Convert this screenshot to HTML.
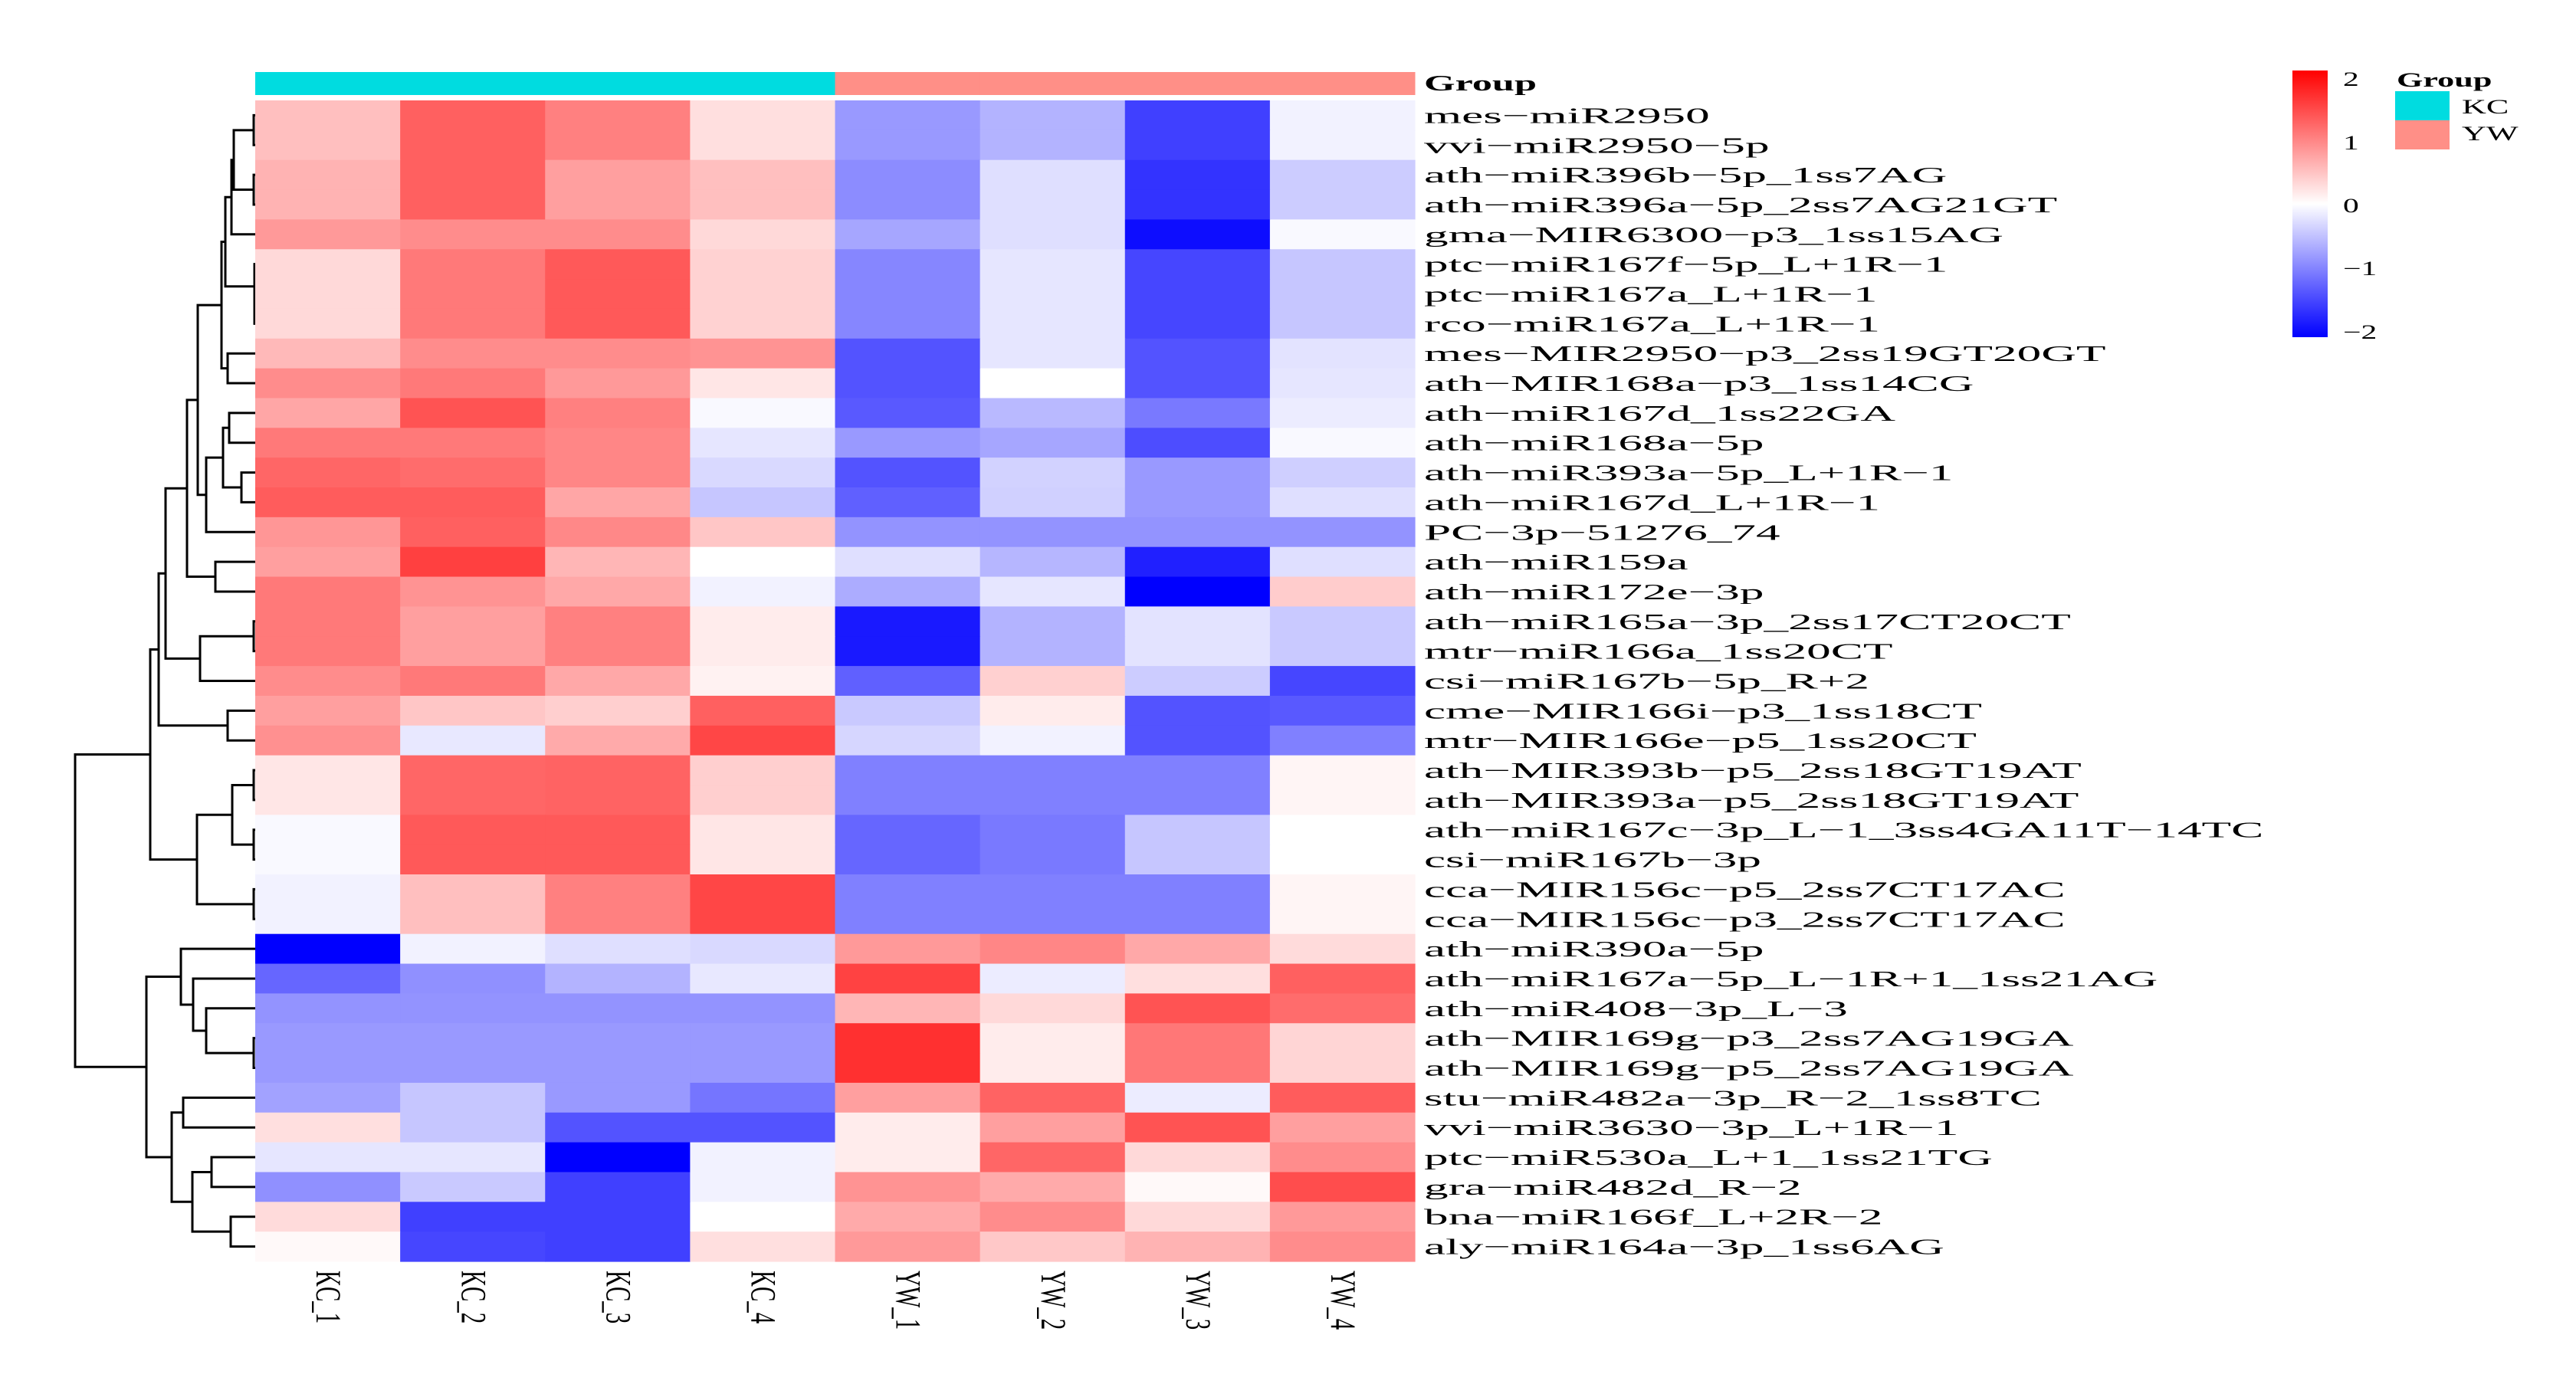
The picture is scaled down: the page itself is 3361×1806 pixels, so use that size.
<!DOCTYPE html>
<html><head><meta charset="utf-8"><style>
html,body{margin:0;padding:0;background:#fff;}
svg{display:block;}
text{font-family:"Liberation Serif",serif;fill:#000;}
</style></head><body>
<svg id="chart" width="3361" height="1806" viewBox="0 0 3361 1806" xmlns="http://www.w3.org/2000/svg">
<defs>
<linearGradient id="cbar" x1="0" y1="0" x2="0" y2="1">
<stop offset="0" stop-color="#ff0000"/><stop offset="0.5" stop-color="#ffffff"/><stop offset="1" stop-color="#0000ff"/>
</linearGradient>
</defs>
<g id="dendro"></g>
<g id="groupbar"></g>
<g id="cells"></g>
<g id="rowlabels"></g>
<g id="collabels"></g>
<g>
<rect x="2991" y="92" width="46" height="348" fill="url(#cbar)"/>
<text font-size="26" transform="translate(3057,112) scale(1.6,1)">2</text>
<text font-size="26" transform="translate(3057,195) scale(1.6,1)">1</text>
<text font-size="26" transform="translate(3057,277) scale(1.6,1)">0</text>
<text font-size="26" transform="translate(3057,359) scale(1.6,1)">−1</text>
<text font-size="26" transform="translate(3057,442) scale(1.6,1)">−2</text>
</g>
<g>
<text font-size="26" font-weight="bold" transform="translate(3127,113) scale(1.7,1)">Group</text>
<rect x="3125" y="119" width="71" height="38" fill="#00dce0"/>
<rect x="3125" y="157" width="71" height="38" fill="#ff8f87"/>
<text font-size="26" transform="translate(3212,148) scale(1.7,1)">KC</text>
<text font-size="26" transform="translate(3212,183) scale(1.7,1)">YW</text>
</g>
<text font-size="29" font-weight="bold" transform="translate(1858,118) scale(1.8,1)">Group</text>
</svg>
<script>
const samples = ["KC_1","KC_2","KC_3","KC_4","YW_1","YW_2","YW_3","YW_4"];
const groups = ["KC","KC","KC","KC","YW","YW","YW","YW"];
const rowNames = ["mes−miR2950","vvi−miR2950−5p","ath−miR396b−5p_1ss7AG","ath−miR396a−5p_2ss7AG21GT","gma−MIR6300−p3_1ss15AG","ptc−miR167f−5p_L+1R−1","ptc−miR167a_L+1R−1","rco−miR167a_L+1R−1","mes−MIR2950−p3_2ss19GT20GT","ath−MIR168a−p3_1ss14CG","ath−miR167d_1ss22GA","ath−miR168a−5p","ath−miR393a−5p_L+1R−1","ath−miR167d_L+1R−1","PC−3p−51276_74","ath−miR159a","ath−miR172e−3p","ath−miR165a−3p_2ss17CT20CT","mtr−miR166a_1ss20CT","csi−miR167b−5p_R+2","cme−MIR166i−p3_1ss18CT","mtr−MIR166e−p5_1ss20CT","ath−MIR393b−p5_2ss18GT19AT","ath−MIR393a−p5_2ss18GT19AT","ath−miR167c−3p_L−1_3ss4GA11T−14TC","csi−miR167b−3p","cca−MIR156c−p5_2ss7CT17AC","cca−MIR156c−p3_2ss7CT17AC","ath−miR390a−5p","ath−miR167a−5p_L−1R+1_1ss21AG","ath−miR408−3p_L−3","ath−MIR169g−p3_2ss7AG19GA","ath−MIR169g−p5_2ss7AG19GA","stu−miR482a−3p_R−2_1ss8TC","vvi−miR3630−3p_L+1R−1","ptc−miR530a_L+1_1ss21TG","gra−miR482d_R−2","bna−miR166f_L+2R−2","aly−miR164a−3p_1ss6AG"];
const values = [
[0.5,1.25,1.0,0.25,-0.8,-0.6,-1.5,-0.1],
[0.5,1.25,1.0,0.25,-0.8,-0.6,-1.5,-0.1],
[0.6,1.25,0.75,0.5,-0.9,-0.25,-1.6,-0.4],
[0.6,1.25,0.75,0.5,-0.9,-0.25,-1.6,-0.4],
[0.8,0.9,0.9,0.3,-0.7,-0.25,-1.9,-0.05],
[0.3,1.05,1.3,0.35,-0.95,-0.2,-1.45,-0.45],
[0.3,1.05,1.3,0.35,-0.95,-0.2,-1.45,-0.45],
[0.3,1.05,1.3,0.35,-0.95,-0.2,-1.45,-0.45],
[0.55,0.9,0.9,0.85,-1.35,-0.2,-1.35,-0.22],
[0.9,1.05,0.8,0.2,-1.35,0.0,-1.35,-0.2],
[0.7,1.35,1.0,-0.05,-1.3,-0.55,-1.05,-0.15],
[1.05,1.05,0.95,-0.2,-0.8,-0.7,-1.4,-0.05],
[1.2,1.15,0.95,-0.3,-1.35,-0.35,-0.8,-0.38],
[1.28,1.28,0.7,-0.45,-1.25,-0.37,-0.8,-0.25],
[0.82,1.25,0.93,0.45,-0.85,-0.85,-0.85,-0.85],
[0.75,1.5,0.57,0.0,-0.25,-0.57,-1.75,-0.25],
[1.05,0.85,0.68,-0.1,-0.65,-0.2,-2.0,0.4],
[1.05,0.75,1.0,0.15,-1.8,-0.6,-0.22,-0.42],
[1.05,0.75,1.0,0.15,-1.8,-0.6,-0.22,-0.42],
[0.9,1.05,0.68,0.1,-1.25,0.37,-0.4,-1.45],
[0.75,0.45,0.38,1.25,-0.42,0.15,-1.35,-1.3],
[0.87,-0.18,0.67,1.45,-0.32,-0.1,-1.35,-1.0],
[0.2,1.2,1.22,0.38,-1.0,-1.0,-1.0,0.08],
[0.2,1.2,1.22,0.38,-1.0,-1.0,-1.0,0.08],
[-0.05,1.3,1.3,0.2,-1.2,-1.05,-0.45,0.0],
[-0.05,1.3,1.3,0.2,-1.2,-1.05,-0.45,0.0],
[-0.1,0.5,1.0,1.45,-1.0,-1.0,-1.0,0.08],
[-0.1,0.5,1.0,1.45,-1.0,-1.0,-1.0,0.08],
[-2.0,-0.1,-0.25,-0.3,0.8,0.95,0.68,0.28],
[-1.2,-0.87,-0.6,-0.18,1.48,-0.15,0.25,1.25],
[-0.85,-0.85,-0.85,-0.85,0.57,0.3,1.35,1.15],
[-0.8,-0.8,-0.8,-0.8,1.62,0.15,1.07,0.33],
[-0.8,-0.8,-0.8,-0.8,1.62,0.15,1.07,0.33],
[-0.73,-0.45,-0.8,-1.08,0.75,1.22,-0.15,1.28],
[0.25,-0.45,-1.35,-1.35,0.15,0.75,1.35,0.75],
[-0.2,-0.2,-2.0,-0.1,0.15,1.2,0.3,0.9],
[-0.87,-0.42,-1.5,-0.1,0.85,0.67,0.05,1.4],
[0.28,-1.5,-1.5,0.0,0.67,0.9,0.3,0.8],
[0.05,-1.45,-1.5,0.25,0.8,0.43,0.6,0.9]
];
// dendrogram: [left, right, mergeX]
const rowTree = [[[[[[[[[[[0,1,331],[2,3,331],305],4,302],[5,[6,7,332],332],294],[8,9,297],289],[[[10,11,299],[12,13,315],291],14,269],258],[15,16,281],244],[[17,18,331],19,261],216],[20,21,297],207],[[[22,23,331],[24,25,331],303],[26,27,331],257],196],[[28,[29,[30,[31,32,331],269],252],236],[[33,34,239],[[35,36,276],[37,38,301],251],224],191],98];

const NS="http://www.w3.org/2000/svg";
const X0=333, X1=1846, Y0=131, Y1=1646;
const cw=(X1-X0)/samples.length, rh=(Y1-Y0)/rowNames.length;
const xCol=i=>X0+i*cw;
const yRow=i=>Y0+i*rh;
function colorOf(v){v=Math.max(-2,Math.min(2,v));
 if(v>=0){const g=Math.round(255*(1-v/2));return `rgb(255,${g},${g})`;}
 const r=Math.round(255*(1+v/2));return `rgb(${r},${r},255)`;}
function mk(tag,attrs,parent){const e=document.createElementNS(NS,tag);for(const k in attrs)e.setAttribute(k,attrs[k]);parent.appendChild(e);return e;}

const gb=document.getElementById('groupbar');
groups.forEach((g,i)=>{
 const r=mk('rect',{x:xCol(i),y:94,width:cw+0.5,height:30,fill:g==="KC"?"#00dce0":"#ff8f87"},gb);
 
 
});
const cells=document.getElementById('cells');
values.forEach((row,ri)=>row.forEach((v,ci)=>{
 const r=mk('rect',{x:xCol(ci),y:yRow(ri),width:cw+0.6,height:rh+0.6,fill:colorOf(v)},cells);
 
 
}));
const rl=document.getElementById('rowlabels');
rowNames.forEach((n,i)=>{
 const t=mk('text',{'font-size':29,transform:`translate(1858,${yRow(i)+rh/2+10}) scale(2.18,1)`},rl);
 t.textContent=n;
 
 
});
const cl=document.getElementById('collabels');
samples.forEach((s,i)=>{
 const t=mk('text',{'font-size':29,'dominant-baseline':'central',transform:`translate(${xCol(i)+cw/2},1658) scale(1.6,1) rotate(90)`},cl);
 t.textContent=s;
 
 
});
const dg=document.getElementById('dendro');
function draw(node){
 if(typeof node==="number") return {x:X0, y:yRow(node)+rh/2};
 const a=draw(node[0]), b=draw(node[1]), x=node[2];
 const p=mk('path',{d:`M${a.x},${a.y}H${x}V${b.y}H${b.x}`,fill:'none',stroke:'#000','stroke-width':3},dg);
 
 
 return {x:x,y:(a.y+b.y)/2};
}
draw(rowTree);
</script>
</body></html>
